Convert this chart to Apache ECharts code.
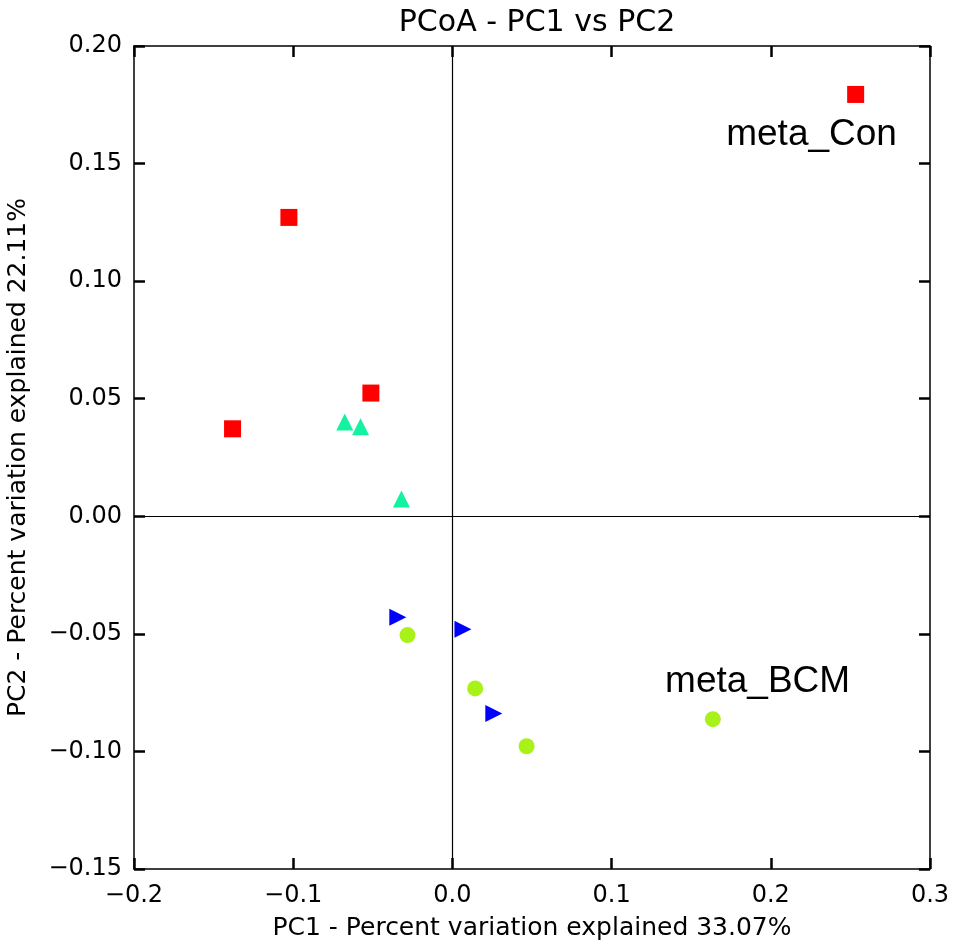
<!DOCTYPE html>
<html>
<head>
<meta charset="utf-8">
<script src="https://cdn.jsdelivr.net/npm/echarts@6/dist/echarts.min.js"></script>
<style>
  html, body { margin: 0; padding: 0; background: #fff; }
  #chart { width: 960px; height: 947px; }
</style>
</head>
<body>
<div id="chart"></div>
<script>
// PCoA coordinates, [PC1, PC2]
const conPoints = [[0.2533, 0.1794], [-0.1027, 0.1271], [-0.0512, 0.0524], [-0.1381, 0.0372]];
const tealPoints = [[-0.0676, 0.0401], [-0.0577, 0.0381], [-0.0320, 0.0074]];
const bluePoints = [[-0.0343, -0.0429], [0.0066, -0.0480], [0.0260, -0.0839]];
const bcmPoints = [[-0.0282, -0.0505], [0.0143, -0.0732], [0.0466, -0.0978], [0.1636, -0.0863]];

// group labels, placed in data coordinates
const groupLabels = [
  { name: 'meta_Con', value: [0.2256, 0.1622] },
  { name: 'meta_BCM', value: [0.1917, -0.0705] }
];

const xTicks = { min: -0.2, max: 0.3, step: 0.1 };
const yTicks = { min: -0.15, max: 0.20, step: 0.05 };

const axisFont = 'DejaVu Sans';
const minus = (s) => s.replace('-', '\u2212');

const lineStyle = { color: '#000', width: 1.5 };
const tickStyle = { show: true, inside: true, length: 11, lineStyle: { color: '#000', width: 2.5 } };

let chart = echarts.init(document.getElementById('chart'));

let option = {
  backgroundColor: '#fff',
  animation: false,
  title: {
    text: 'PCoA - PC1 vs PC2',
    left: 532,
    textAlign: 'center',
    top: 3,
    textStyle: { fontFamily: axisFont, fontSize: 30, fontWeight: 'normal', color: '#000' }
  },
  grid: { left: 134, right: 30, top: 46, bottom: 78, containLabel: false, outerBoundsMode: 'none' },
  xAxis: [
    {
      type: 'value',
      position: 'bottom',
      min: xTicks.min, max: xTicks.max, interval: xTicks.step,
      name: 'PC1 - Percent variation explained 33.07%',
      nameLocation: 'middle',
      nameGap: 47,
      nameTextStyle: { fontFamily: axisFont, fontSize: 25, color: '#000' },
      axisLine: { show: true, onZero: false, lineStyle: lineStyle },
      axisTick: tickStyle,
      splitLine: { show: false },
      axisLabel: {
        fontFamily: axisFont, fontSize: 24, color: '#000', margin: 15,
        formatter: (v) => minus(v.toFixed(1))
      }
    },
    {
      type: 'value',
      position: 'top',
      min: xTicks.min, max: xTicks.max, interval: xTicks.step,
      axisLine: { show: true, onZero: false, lineStyle: lineStyle },
      axisTick: tickStyle,
      splitLine: { show: false },
      axisLabel: { show: false }
    }
  ],
  yAxis: [
    {
      type: 'value',
      position: 'left',
      min: yTicks.min, max: yTicks.max, interval: yTicks.step,
      name: 'PC2 - Percent variation explained 22.11%',
      nameLocation: 'middle',
      nameGap: 103,
      nameRotate: 90,
      nameTextStyle: { fontFamily: axisFont, fontSize: 25, color: '#000' },
      axisLine: { show: true, onZero: false, lineStyle: lineStyle },
      axisTick: tickStyle,
      splitLine: { show: false },
      axisLabel: {
        fontFamily: axisFont, fontSize: 24, color: '#000', margin: 12,
        formatter: (v) => minus(v.toFixed(2))
      }
    },
    {
      type: 'value',
      position: 'right',
      min: yTicks.min, max: yTicks.max, interval: yTicks.step,
      axisLine: { show: true, onZero: false, lineStyle: lineStyle },
      axisTick: tickStyle,
      splitLine: { show: false },
      axisLabel: { show: false }
    }
  ],
  series: [
    {
      type: 'scatter',
      data: conPoints,
      symbol: 'rect',
      symbolSize: 17,
      itemStyle: { color: '#ff0000', opacity: 1 },
      z: 3,
      markLine: {
        silent: true,
        symbol: 'none',
        label: { show: false },
        lineStyle: { color: '#000', width: 1.2, type: 'solid', opacity: 1 },
        data: [{ xAxis: 0 }, { yAxis: 0 }],
        z: 1
      }
    },
    {
      type: 'scatter',
      data: tealPoints,
      symbol: 'triangle',
      symbolSize: 17,
      itemStyle: { color: '#12f2a0', opacity: 1 },
      z: 3
    },
    {
      type: 'scatter',
      data: bluePoints,
      symbol: 'triangle',
      symbolRotate: -90,
      symbolSize: 17,
      itemStyle: { color: '#0000ff', opacity: 1 },
      z: 3
    },
    {
      type: 'scatter',
      data: bcmPoints,
      symbol: 'circle',
      symbolSize: 16,
      itemStyle: { color: '#a8f21a', opacity: 1 },
      z: 3
    },
    {
      type: 'scatter',
      data: groupLabels,
      symbolSize: 0,
      silent: true,
      itemStyle: { opacity: 1 },
      label: {
        show: true,
        position: 'inside',
        formatter: (p) => p.name,
        fontFamily: 'Liberation Sans',
        fontSize: 37,
        color: '#000'
      }
    }
  ]
};

chart.setOption(option, true);
window.addEventListener('resize', () => {
  chart.resize();
});
</script>
</body>
</html>
